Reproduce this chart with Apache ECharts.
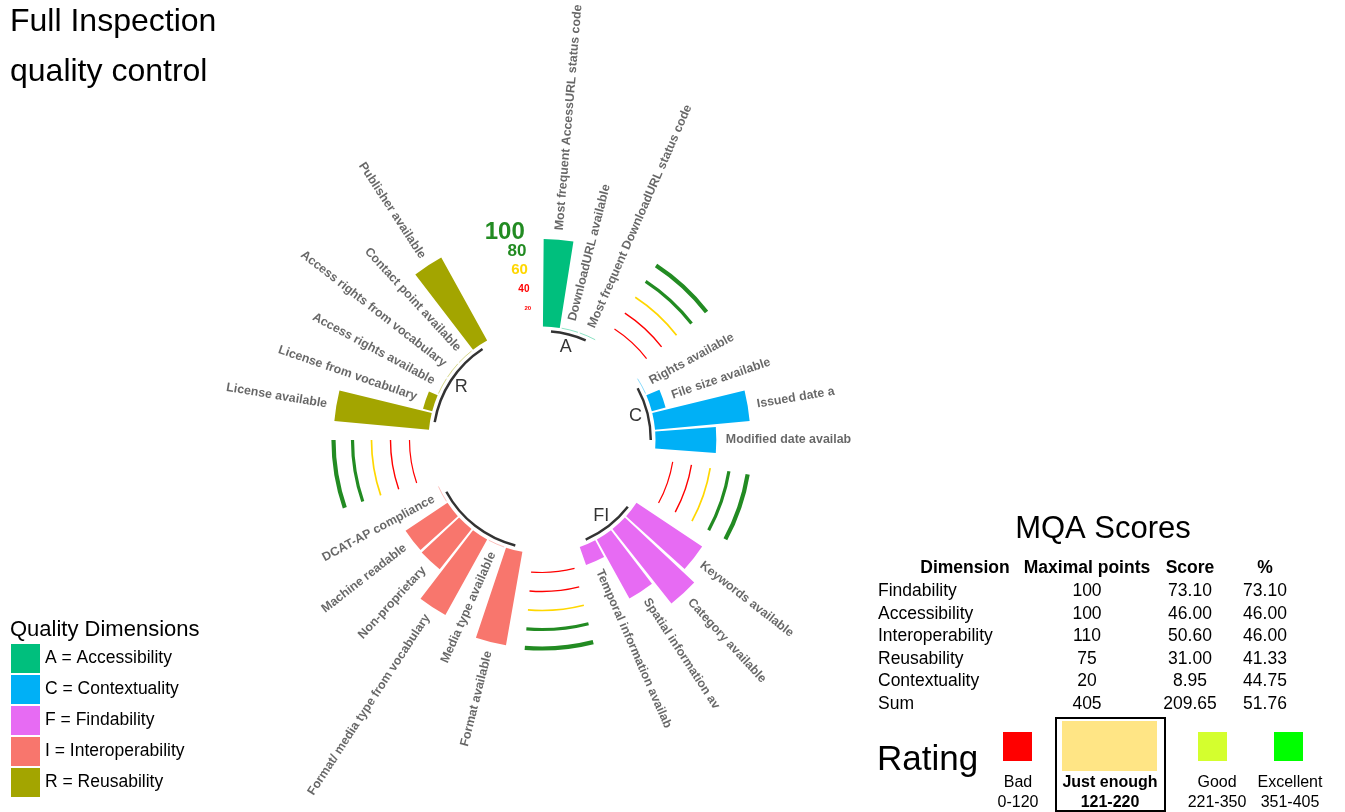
<!DOCTYPE html>
<html>
<head>
<meta charset="utf-8">
<title>Full Inspection quality control</title>
<script src="https://cdn.jsdelivr.net/npm/echarts@6/dist/echarts.min.js"></script>
<style>
  html, body { margin: 0; padding: 0; background: #fff; }
  #main { width: 1345px; height: 812px; }
</style>
</head>
<body>
<div id="main"></div>
<script>
// bar labels per quality dimension (some are cut off in the source plot)
const labelsA = ['Most frequent AccessURL status code', 'DownloadURL available', 'Most frequent DownloadURL status code']
const labelsC = ['Rights available', 'File size available', 'Issued date a', 'Modified date availab']
const labelsF = ['Keywords available', 'Category available', 'Spatial information av', 'Temporal information availab']
const labelsI = ['Format available', 'Media type available', 'Format/ media type from vocabulary',
  'Non-proprietary', 'Machine readable', 'DCAT-AP compliance']
const labelsR = ['License available', 'License from vocabulary', 'Access rights available',
  'Access rights from vocabulary', 'Contact point available', 'Publisher available']

// percentage reached per metric
const valuesA = [92, 0, 0]
const valuesC = [0, 15, 100, 64]
const valuesF = [83, 100, 71, 20]
const valuesI = [100, 0, 91, 54, 53, 0]
const valuesR = [100, 10, 0, 0, 0, 100]

const groupNames   = ['A = Accessibility', 'C = Contextuality', 'F = Findability', 'I = Interoperability', 'R = Reusability']
const groupLetters = ['A', 'C', 'FI', '', 'R']
const gridLevels   = [20, 40, 60, 80, 100]
const tickLabels   = ['20', '40', '60', '80', '100']

// MQA table
const tableHeader = ['Dimension', 'Maximal points', 'Score', '%']
const dimensions  = ['Findability', 'Accessibility', 'Interoperability', 'Reusability', 'Contextuality', 'Sum']
const maxPoints   = ['100', '100', '110', '75', '20', '405']
const scores      = ['73.10', '46.00', '50.60', '31.00', '8.95', '209.65']
const percents    = ['73.10', '46.00', '46.00', '41.33', '44.75', '51.76']
const ratingNames  = ['Bad', 'Just enough', 'Good', 'Excellent']
const ratingRanges = ['0-120', '121-220', '221-350', '351-405']

// ---- styles ----
const FONT = "'Liberation Sans', Arial, Helvetica, sans-serif"
const GAP = 3  // empty slots after every group
const groupColors = ['#00BF7D', '#00B0F6', '#E76BF3', '#F8766D', '#A3A500']
const gridColors  = ['#FF0000', '#FF0000', '#FFD700', '#228B22', '#228B22']
const gridWidths  = [1.2, 1.4, 1.7, 3.2, 4.2]
const tickSizes   = [6, 10, 15, 17, 24]
const ratingColors = ['#FF0000', '#FFE585', '#D4FF2E', '#00FF00']

const groupLabels = [labelsA, labelsC, labelsF, labelsI, labelsR]
const groupValues = [valuesA, valuesC, valuesF, valuesI, valuesR]

// slots around the circle: group bars followed by GAP empty ones
const slotNames = []
const groupStart = []
groupLabels.forEach((labels, g) => {
  groupStart.push(slotNames.length)
  labels.forEach(l => slotNames.push(l))
  for (let k = 0; k < GAP; k++) slotNames.push('gap-' + g + '-' + k)
})
const N = slotNames.length
const STEP = 2 * Math.PI / N

// position helper: library coord -> angle / radius around the polar centre
function geo(params, api, r, slot) {
  const cs = params.coordSys
  const p = api.coord([r, slot])
  const dx = p[0] - cs.cx, dy = p[1] - cs.cy
  return { cx: cs.cx, cy: cs.cy, x: p[0], y: p[1], a: Math.atan2(dy, dx), r: Math.sqrt(dx * dx + dy * dy) }
}

function arcShape(cx, cy, r, a1, a2) {
  while (a2 < a1) a2 += 2 * Math.PI
  return { cx, cy, r, startAngle: a1, endAngle: a2, clockwise: true }
}

// bars
const barSeries = groupNames.map((name, g) => {
  const data = slotNames.map(() => '-')
  groupValues[g].forEach((v, i) => { data[groupStart[g] + i] = v })
  return {
    name, type: 'bar', coordinateSystem: 'polar', stack: 'bars',
    barCategoryGap: '10%', itemStyle: { color: groupColors[g] },
    data, silent: true, z: 2,
  }
})

const labelData = []
const zeroData = []
groupValues.forEach((vals, g) => vals.forEach((v, i) => {
  labelData.push([v, groupStart[g] + i, g, i])
  if (v === 0) zeroData.push([0, groupStart[g] + i, g])
}))

const gridData = []
for (let g = 1; g < groupStart.length; g++) {
  const from = groupStart[g - 1] + groupLabels[g - 1].length
  const to = groupStart[g] - 1
  gridLevels.forEach((lv, k) => gridData.push([lv, from, to, k]))
}

const baseData = groupStart.map((s, g) => [-5, s, s + groupLabels[g].length - 1, g])
const titleData = groupStart.map((s, g) => [-18, s, s + groupLabels[g].length - 1, g])
const tickData = gridLevels.map((lv, k) => [lv, N - 1, k])

const customBase = { type: 'custom', coordinateSystem: 'polar', silent: true, encode: { radius: 0, angle: 1 } }

const series = [
  ...barSeries,
  Object.assign({}, customBase, {
    name: 'grid', data: gridData, z: 3,
    renderItem(params, api) {
      const k = api.value(3)
      const a = geo(params, api, api.value(0), api.value(1))
      const b = geo(params, api, api.value(0), api.value(2))
      return {
        type: 'arc', shape: arcShape(a.cx, a.cy, a.r, a.a, b.a),
        style: { stroke: gridColors[k], lineWidth: gridWidths[k], fill: 'none' },
      }
    },
  }),
  Object.assign({}, customBase, {
    name: 'zero', data: zeroData, z: 3,
    renderItem(params, api) {
      const a = geo(params, api, 0, api.value(1))
      return {
        type: 'arc', shape: arcShape(a.cx, a.cy, a.r, a.a - 0.45 * STEP, a.a + 0.45 * STEP),
        style: { stroke: groupColors[api.value(2)], opacity: 0.45, lineWidth: 1, fill: 'none' },
      }
    },
  }),
  Object.assign({}, customBase, {
    name: 'base', data: baseData, z: 3,
    renderItem(params, api) {
      const a = geo(params, api, api.value(0), api.value(1))
      const b = geo(params, api, api.value(0), api.value(2))
      return {
        type: 'arc', shape: arcShape(a.cx, a.cy, a.r, a.a, b.a),
        style: { stroke: 'rgba(0,0,0,0.8)', lineWidth: 2.5, fill: 'none' },
      }
    },
  }),
  Object.assign({}, customBase, {
    name: 'groupTitles', data: titleData, z: 4,
    renderItem(params, api) {
      const a = geo(params, api, api.value(0), api.value(1))
      const b = geo(params, api, api.value(0), api.value(2))
      let a2 = b.a
      while (a2 < a.a) a2 += 2 * Math.PI
      const mid = (a.a + a2) / 2
      return {
        type: 'text', x: a.cx + a.r * Math.cos(mid), y: a.cy + a.r * Math.sin(mid),
        style: {
          text: groupLetters[api.value(3)], fill: 'rgba(0,0,0,0.8)', fontSize: 18,
          fontFamily: FONT, align: 'center', verticalAlign: 'middle',
        },
      }
    },
  }),
  Object.assign({}, customBase, {
    name: 'labels', data: labelData, z: 4,
    renderItem(params, api) {
      const g = api.value(2), i = api.value(3)
      const q = geo(params, api, api.value(0) + 10, api.value(1))
      const deg = ((q.a * 180 / Math.PI) + 90 + 360) % 360
      const right = deg < 180
      return {
        type: 'text', x: q.x, y: q.y, rotation: right ? -q.a : Math.PI - q.a,
        style: {
          text: groupLabels[g][i], fill: 'rgba(0,0,0,0.6)', fontSize: 12.4, fontWeight: 'bold',
          fontFamily: FONT, align: right ? 'left' : 'right', verticalAlign: 'middle',
        },
      }
    },
  }),
  Object.assign({}, customBase, {
    name: 'ticks', data: tickData, z: 4,
    renderItem(params, api) {
      const k = api.value(2)
      const q = geo(params, api, api.value(0), api.value(1))
      return {
        type: 'text', x: q.x, y: q.y,
        style: {
          text: tickLabels[k], fill: gridColors[k], fontSize: tickSizes[k], fontWeight: 'bold',
          fontFamily: FONT, align: 'right', verticalAlign: 'middle',
        },
      }
    },
  }),
]

// ---- texts, table and rating block ----
const graphics = []
function txt(text, x, y, o) {
  graphics.push({
    type: 'text', x, y, silent: true,
    style: Object.assign({ text, fill: '#000', fontFamily: FONT, fontSize: 17.5, align: 'left', verticalAlign: 'middle' }, o),
  })
}
txt('Full Inspection', 10, 22, { fontSize: 32 })
txt('quality control', 10, 72, { fontSize: 32 })
txt('Quality Dimensions', 10, 630, { fontSize: 22 })

txt('MQA Scores', 1103, 529, { fontSize: 31, align: 'center' })
const colX = [965, 1087, 1190, 1265]
tableHeader.forEach((h, c) => txt(h, colX[c], 568.5, { fontWeight: 'bold', align: 'center' }))
dimensions.forEach((d, r) => {
  const y = 591.5 + 22.5 * r
  txt(d, 878, y)
  txt(maxPoints[r], colX[1], y, { align: 'center' })
  txt(scores[r], colX[2], y, { align: 'center' })
  txt(percents[r], colX[3], y, { align: 'center' })
})

txt('Rating', 877, 760.5, { fontSize: 35 })
const swatches = [[1003, 732, 29, 29], [1062, 721, 95, 50], [1198, 732, 29, 29], [1274, 732, 29, 29]]
const ratingX = [1018, 1110, 1217, 1290]
swatches.forEach((s, k) => {
  graphics.push({ type: 'rect', silent: true, shape: { x: s[0], y: s[1], width: s[2], height: s[3] }, style: { fill: ratingColors[k] } })
  const bold = k === 1 ? { fontWeight: 'bold' } : {}
  txt(ratingNames[k], ratingX[k], 782.5, Object.assign({ fontSize: 16, align: 'center' }, bold))
  txt(ratingRanges[k], ratingX[k], 802.5, Object.assign({ fontSize: 16, align: 'center' }, bold))
})
graphics.push({ type: 'rect', silent: true, shape: { x: 1056, y: 718, width: 109, height: 93 }, style: { fill: 'none', stroke: '#000', lineWidth: 2 } })

const chart = echarts.init(document.getElementById('main'))
chart.setOption({
  animation: false,
  backgroundColor: '#fff',
  polar: { center: [542, 440], radius: 227.5 },
  angleAxis: {
    type: 'category', data: slotNames, startAngle: 90, clockwise: true,
    axisLine: { show: false }, axisTick: { show: false }, axisLabel: { show: false }, splitLine: { show: false },
  },
  radiusAxis: {
    type: 'value', min: -119.5, max: 120,
    axisLine: { show: false }, axisTick: { show: false }, axisLabel: { show: false }, splitLine: { show: false },
  },
  legend: {
    data: groupNames, orient: 'vertical', left: 11, top: 644, padding: 0,
    icon: 'rect', itemWidth: 29, itemHeight: 29, itemGap: 2, selectedMode: false,
    textStyle: { fontSize: 17.5, color: '#000', fontFamily: FONT },
  },
  graphic: graphics,
  series,
})
</script>
</body>
</html>
